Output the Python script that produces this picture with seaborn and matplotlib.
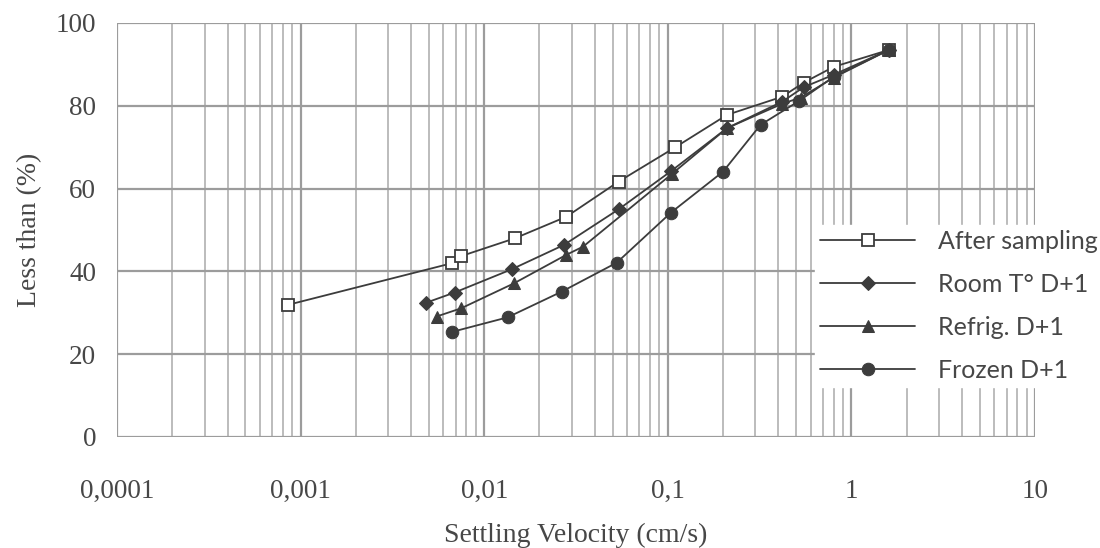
import matplotlib
matplotlib.use("Agg")
import matplotlib.pyplot as plt
import seaborn as sns
from matplotlib.ticker import LogLocator, NullFormatter

# Settling velocity (cm/s) and cumulative fraction "less than" (%)
after_v = [0.00085, 0.0067, 0.0075, 0.0147, 0.028, 0.054, 0.11, 0.21, 0.42, 0.55, 0.80, 1.6]
after_p = [31.9, 42.0, 43.7, 48.0, 53.2, 61.7, 70.0, 77.8, 82.2, 85.6, 89.4, 93.5]

room_v = [0.0048, 0.0069, 0.0141, 0.0272, 0.054, 0.104, 0.21, 0.42, 0.55, 0.80, 1.6]
room_p = [32.4, 34.9, 40.5, 46.4, 55.0, 64.2, 74.6, 81.0, 84.5, 87.5, 93.5]

refrig_v = [0.0055, 0.0075, 0.0145, 0.028, 0.0346, 0.105, 0.21, 0.42, 0.53, 0.80, 1.6]
refrig_p = [29.1, 31.1, 37.1, 44.0, 46.0, 63.5, 74.6, 80.5, 82.0, 86.8, 93.5]

frozen_v = [0.0067, 0.0134, 0.0264, 0.0527, 0.104, 0.20, 0.32, 0.52, 0.80, 1.6]
frozen_p = [25.4, 28.9, 35.1, 42.1, 54.2, 64.1, 75.4, 81.2, 87.0, 93.5]

series_names = ["After sampling", "Room T° D+1", "Refrig. D+1", "Frozen D+1"]

x_ticks = [1e-4, 1e-3, 1e-2, 1e-1, 1, 10]
x_tick_labels = ["0,0001", "0,001", "0,01", "0,1", "1", "10"]
y_ticks = [0, 20, 40, 60, 80, 100]

sns.set_theme(style="white")
plt.rcParams["font.family"] = ["Liberation Serif", "DejaVu Serif"]

ink = "#3c3c3c"
text_col = "#474747"

fig = plt.figure(figsize=(11, 5.48), dpi=100)
ax = fig.add_axes([117 / 1100, 111 / 548, 918 / 1100, 414 / 548])

marker_styles = [
    dict(marker="s", markersize=9, markerfacecolor="white", markeredgecolor=ink, markeredgewidth=1.3),
    dict(marker="D", markersize=7, markerfacecolor=ink, markeredgecolor=ink),
    dict(marker="^", markersize=9, markerfacecolor=ink, markeredgecolor=ink),
    dict(marker="o", markersize=9, markerfacecolor=ink, markeredgecolor=ink),
]
data = [(after_v, after_p), (room_v, room_p), (refrig_v, refrig_p), (frozen_v, frozen_p)]

for name, (v, p), st in zip(series_names, data, marker_styles):
    sns.lineplot(x=v, y=p, ax=ax, color=ink, linewidth=1.3, label=name, **st)

ax.set_xscale("log")
ax.set_xlim(1e-4, 10)
ax.set_ylim(0, 100)
ax.set_xticks(x_ticks)
ax.set_xticklabels(x_tick_labels)
ax.xaxis.set_minor_locator(LogLocator(base=10, subs=range(2, 10)))
ax.xaxis.set_minor_formatter(NullFormatter())
ax.set_yticks(y_ticks)

ax.grid(which="major", color="#9c9c9c", linewidth=1.6)
ax.grid(which="minor", axis="x", color="#bcbcbc", linewidth=1.4)
ax.set_axisbelow(True)
for s in ax.spines.values():
    s.set_visible(False)

ax.tick_params(axis="both", which="both", length=0, labelsize=19.5, colors=text_col)
ax.tick_params(axis="y", pad=15)
ax.tick_params(axis="x", pad=30)

ax.set_xlabel("Settling Velocity (cm/s)", fontsize=20, color=text_col, labelpad=14)
ax.set_ylabel("Less than (%)", fontsize=20, color=text_col, labelpad=10)

leg = ax.legend(
    loc="upper left", bbox_to_anchor=(815 / 1100, 1 - 225 / 548),
    bbox_transform=fig.transFigure, frameon=True, facecolor="white",
    edgecolor="white", framealpha=1, borderpad=0.2, borderaxespad=0,
    handlelength=3.8, handletextpad=0.9, labelspacing=0.8,
    prop={"family": "Lato", "size": 18},
)
for t in leg.get_texts():
    t.set_color(text_col)

fig.savefig("out.png", dpi=100, facecolor="white")
